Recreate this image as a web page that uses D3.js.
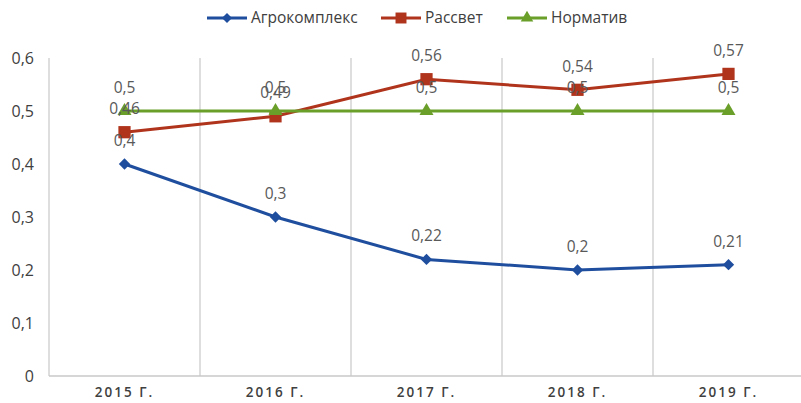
<!DOCTYPE html>
<html>
<head>
<meta charset="utf-8">
<script src="https://cdn.jsdelivr.net/npm/d3@7"></script>
<style>
  body { margin: 0; background: #fff; }
  text { font-family: "Open Sans", sans-serif; }
</style>
</head>
<body>
<div id="chart"></div>
<script>
// data
var years = ["2015 Г.", "2016 Г.", "2017 Г.", "2018 Г.", "2019 Г."];
var agro = [0.4, 0.3, 0.22, 0.2, 0.21];
var rassvet = [0.46, 0.49, 0.56, 0.54, 0.57];
var norm = [0.5, 0.5, 0.5, 0.5, 0.5];
var yTicks = [0, 0.1, 0.2, 0.3, 0.4, 0.5, 0.6];

// diamond = square turned 45deg
var series = [
  { name: "Агрокомплекс", values: agro, color: "#1f4e9e", marker: d3.symbolSquare, size: 64, rot: 45 },
  { name: "Рассвет", values: rassvet, color: "#b0341c", marker: d3.symbolSquare, size: 150, rot: 0 },
  { name: "Норматив", values: norm, color: "#6a9f2a", marker: d3.symbolTriangle, size: 85, rot: 0 }
];

var W = 801, H = 403;
var margin = { top: 58, bottom: 27, left: 49 },
    height = H - margin.top - margin.bottom;

var fmt = function (v) { return String(v).replace(".", ","); };

var svg = d3.select("#chart")
  .append("svg")
  .attr("width", W)
  .attr("height", H);

var g = svg.append("g")
  .attr("transform", "translate(" + margin.left + "," + margin.top + ")");

var x = d3.scaleBand().domain(years).range([0, 755]);
var y = d3.scaleLinear().domain([0, 0.6]).range([height, 0]);

// vertical grid lines at category boundaries
g.selectAll(".vgrid")
  .data(years.slice(1))
  .enter().append("line")
  .attr("x1", function (d) { return x(d); })
  .attr("x2", function (d) { return x(d); })
  .attr("y1", 0).attr("y2", height)
  .attr("stroke", "#c8c8c8").attr("stroke-width", 1.2);

// y axis line
g.append("line")
  .attr("x1", 0).attr("x2", 0).attr("y1", 0).attr("y2", height)
  .attr("stroke", "#c8c8c8").attr("stroke-width", 1.2);

// x axis line
g.append("line")
  .attr("x1", 0).attr("x2", W - margin.left).attr("y1", height).attr("y2", height)
  .attr("stroke", "#c8c8c8").attr("stroke-width", 1.5);

// y tick labels
g.selectAll(".ytick")
  .data(yTicks)
  .enter().append("text")
  .attr("x", -15)
  .attr("y", function (d) { return y(d); })
  .attr("dy", "0.35em")
  .attr("text-anchor", "end")
  .style("font-size", "16px")
  .style("fill", "#404040")
  .text(fmt);

// x tick labels
g.selectAll(".xtick")
  .data(years)
  .enter().append("text")
  .attr("x", function (d) { return x(d) + x.bandwidth() / 2; })
  .attr("y", height + 21)
  .attr("text-anchor", "middle")
  .style("font-size", "13.5px")
  .style("font-weight", "600")
  .style("letter-spacing", "2px")
  .style("fill", "#404040")
  .text(function (d) { return d; });

var line = d3.line()
  .x(function (d, i) { return x(years[i]) + x.bandwidth() / 2; })
  .y(function (d) { return y(d); });

series.forEach(function (s) {
  g.append("path")
    .datum(s.values)
    .attr("fill", "none")
    .attr("stroke", s.color)
    .attr("stroke-width", 3)
    .attr("d", line);

  g.selectAll(null)
    .data(s.values)
    .enter().append("path")
    .attr("transform", function (d, i) {
      return "translate(" + (x(years[i]) + x.bandwidth() / 2) + "," + y(d) + ") rotate(" + s.rot + ")";
    })
    .attr("d", d3.symbol().type(s.marker).size(s.size))
    .attr("fill", s.color);
});

// data labels
series.forEach(function (s) {
  g.selectAll(null)
    .data(s.values)
    .enter().append("text")
    .attr("x", function (d, i) { return x(years[i]) + x.bandwidth() / 2; })
    .attr("y", function (d) { return y(d) - 18; })
    .attr("text-anchor", "middle")
    .style("font-size", "15.5px")
    .style("fill", "#595959")
    .text(fmt);
});

// legend
var legendX = [207, 381, 507];
var leg = svg.selectAll(".legend")
  .data(series)
  .enter().append("g")
  .attr("transform", function (d, i) { return "translate(" + legendX[i] + ",18)"; });

leg.append("line")
  .attr("x1", 0).attr("x2", 40)
  .attr("stroke", function (d) { return d.color; })
  .attr("stroke-width", 3);

leg.append("path")
  .attr("transform", function (d) { return "translate(20,0) rotate(" + d.rot + ")"; })
  .attr("d", function (d) { return d3.symbol().type(d.marker).size(d.size * 0.8)(); })
  .attr("fill", function (d) { return d.color; });

leg.append("text")
  .attr("x", 44)
  .attr("dy", "0.35em")
  .style("font-size", "15.5px")
  .style("fill", "#404040")
  .text(function (d) { return d.name; });
</script>
</body>
</html>
